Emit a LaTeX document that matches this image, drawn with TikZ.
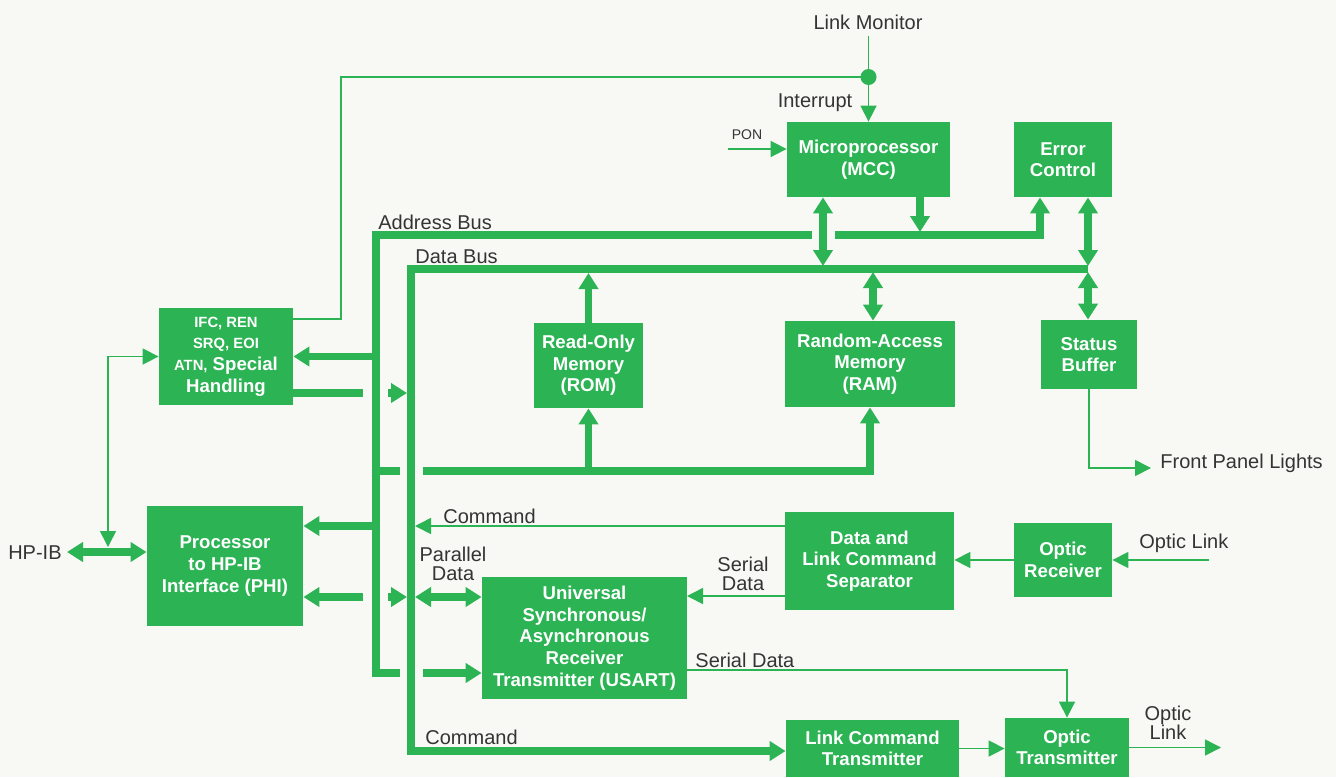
\documentclass[tikz,border=0pt]{standalone}
\usepackage{fontspec}
\setmainfont{Liberation Sans}
\usetikzlibrary{arrows.meta, calc, positioning}
\definecolor{hpGreen}{RGB}{44,179,84}
\definecolor{hpGray}{RGB}{52,52,52}
\definecolor{hpPaper}{RGB}{248,249,245}
\tikzset{
    block/.style={rectangle, fill=hpGreen, text=white, inner sep=0pt, align=center, font=\fontsize{9.3}{10.8}\selectfont\bfseries},
    boxsize/.style 2 args={minimum width=#1*0.5pt, minimum height=#2*0.5pt},
    lbl/.style={text=hpGray, inner sep=0pt, align=center, font=\fontsize{10}{9.6}\selectfont},
    sigLine/.style={draw=hpGreen, line width=0.8pt},
    sigArrow/.style={sigLine, -{Triangle[length=8pt, width=8pt]}},
    sigBoth/.style={sigLine, {Triangle[length=8pt, width=8pt]}-{Triangle[length=8pt, width=8pt]}},
    busLine/.style={draw=hpGreen, line width=3.6pt},
    busArrow/.style={busLine, -{Triangle[length=8pt, width=9.5pt]}},
    busBoth/.style={busLine, {Triangle[length=8pt, width=9.5pt]}-{Triangle[length=8pt, width=9.5pt]}},
}
\newcommand{\smallcaption}[1]{{\fontsize{7.4}{10.8}\selectfont #1}}

\begin{document}
\begin{tikzpicture}[x=0.5pt, y=-0.5pt]
    \fill[hpPaper] (0,0) rectangle (1336,777);
    \useasboundingbox (0,0) rectangle (1336,777);

    % blocks
    \node[block, boxsize={163}{75}] (mcc) at (868.5,159.5) {Microprocessor\\(MCC)};
    \node[block, boxsize={98}{75}] (err) at (1063,159.5) {Error\\Control};
    \node[block, boxsize={109}{85}] (rom) at (588.5,365.5) {Read-Only\\Memory\\(ROM)};
    \node[block, boxsize={170}{86}] (ram) at (870,364) {Random-Access\\Memory\\(RAM)};
    \node[block, boxsize={96}{69}] (stat) at (1089,354.5) {Status\\Buffer};
    \node[block, boxsize={134}{97}] (ifc) at (226,356.5) {\smallcaption{IFC, REN}\\\smallcaption{SRQ, EOI}\\\smallcaption{ATN,} Special\\Handling};
    \node[block, boxsize={156}{120}] (phi) at (225,566) {Processor\\to HP-IB\\Interface (PHI)};
    \node[block, boxsize={205}{122}] (usart) at (584.5,638) {Universal\\Synchronous/\\Asynchronous\\Receiver\\Transmitter (USART)};
    \node[block, boxsize={169}{98}] (sep) at (869.5,561) {Data and\\Link Command\\Separator};
    \node[block, boxsize={98}{74}] (orx) at (1063,560) {Optic\\Receiver};
    \node[block, boxsize={173}{57}] (lct) at (872.5,748.5) {Link Command\\Transmitter};
    \node[block, boxsize={124}{59}] (otx) at (1067,747.5) {Optic\\Transmitter};

    % labels
    \node[lbl] (lmLabel) at (868,22) {Link Monitor};
    \node[lbl] (intLabel) at (815,103) {Interrupt};
    \node[lbl, font=\fontsize{7}{8}\selectfont] (ponLabel) at (747,135) {PON};
    \node[lbl, anchor=west] (abusLabel) at (378,222) {Address Bus};
    \node[lbl, anchor=west] (dbusLabel) at (415,257) {Data Bus};
    \node[lbl, anchor=west] (cmdInLabel) at (443,516) {Command};
    \node[lbl] (parLabel) at (453,564) {Parallel\\Data};
    \node[lbl] (serInLabel) at (743,574) {Serial\\Data};
    \node[lbl, anchor=west] (serOutLabel) at (695,660) {Serial Data};
    \node[lbl, anchor=west] (cmdOutLabel) at (425,737) {Command};
    \node[lbl] (olOutLabel) at (1168,723) {Optic\\Link};
    \node[lbl, anchor=west] (olInLabel) at (1139,543) {Optic Link};
    \node[lbl, anchor=west] (fplLabel) at (1160,463) {Front Panel Lights};
    \node[lbl, anchor=east] (hpibLabel) at (62,553) {HP-IB};

    % bus corners and taps
    \coordinate (aTop) at (376,235);
    \coordinate (aBot) at (376,673);
    \coordinate (aErr) at (1040,235);
    \coordinate (dTop) at (411,269);
    \coordinate (dEnd) at (1088,269);
    \coordinate (dBot) at (411,751);
    \coordinate (aMem) at (423,471);
    \coordinate (aUs) at (423,673);
    \coordinate (aPhi) at (376,526);
    \coordinate (mD) at (823,266);
    \coordinate (mA) at (920,232);
    \coordinate (eD) at (1088,266);
    \coordinate (sD) at (1088,272);
    \coordinate (rD) at (873,272);
    \coordinate (roD) at (588.5,273);
    \coordinate (uD) at (415,597);

    % address bus
    \draw[busLine] (400,673) -- (aBot) -- (aTop) -- (812,235);
    \draw[busArrow] (835,235) -- (aErr) -- (aErr |- err.south);
    \draw[busLine] (aTop |- aMem) -- (400,471);
    \draw[busArrow] (aMem) -| (ram.south);
    \draw[busArrow] (aMem -| rom.south) -- (rom.south);
    \draw[busArrow] (aUs) -- (aUs -| usart.west);
    \draw[busArrow] (aTop |- ifc.east) -- (ifc.east);
    \draw[busArrow] (aPhi) -- (aPhi -| phi.east);

    % data bus
    \draw[busArrow] (dEnd) -- (dTop) -- (dBot) -- (dBot -| lct.west);
    \draw[busBoth] (mD |- mcc.south) -- (mD);
    \draw[busArrow] (mA |- mcc.south) -- (mA);
    \draw[busBoth] (eD |- err.south) -- (eD);
    \draw[busBoth] (sD) -- (sD |- stat.north);
    \draw[busBoth] (rD) -- (rD |- ram.north);
    \draw[busArrow] (rom.north) -- (roD);
    \draw[busBoth] (uD) -- (uD -| usart.west);

    % broken crossings over the address bus
    \coordinate (ifcOut) at (363,393);
    \coordinate (ifcGap) at (388,393);
    \coordinate (ifcTip) at (407,393);
    \draw[busLine] (ifcOut -| ifc.east) -- (ifcOut);
    \draw[busArrow] (ifcGap) -- (ifcTip);
    \coordinate (phiOut) at (363,597);
    \coordinate (phiGap) at (388,597);
    \coordinate (phiTip) at (407,597);
    \draw[busArrow] (phiOut) -- (phiOut -| phi.east);
    \draw[busArrow] (phiGap) -- (phiTip);

    % HP-IB
    \coordinate (hpib) at (67,552);
    \coordinate (hpibTap) at (108,547);
    \draw[busBoth] (hpib) -- (hpib -| phi.west);
    \draw[sigBoth] (hpibTap) |- (ifc.west);

    % link monitor and interrupt
    \coordinate (lmTop) at (868.5,36);
    \coordinate (lmDot) at (868.5,77);
    \coordinate (lmBend) at (341,319);
    \draw[sigArrow] (lmTop) -- (mcc.north);
    \fill[hpGreen] (lmDot) circle[radius=4pt];
    \draw[sigLine] (lmDot) -| (lmBend) -- (lmBend -| ifc.east);
    \coordinate (ponIn) at (728,149);
    \draw[sigArrow] (ponIn) -- (ponIn -| mcc.west);

    % serial side
    \coordinate (cmdIn) at (415,526);
    \coordinate (serIn) at (687,596);
    \coordinate (serOut) at (1067,670);
    \coordinate (olIn) at (1209,560);
    \coordinate (olOut) at (1221,747.5);
    \coordinate (fpl) at (1151,468);
    \draw[sigArrow] (cmdIn -| sep.west) -- (cmdIn);
    \draw[sigArrow] (serIn -| sep.west) -- (serIn);
    \draw[sigArrow] (serOut -| usart.east) -| (otx.north);
    \draw[sigArrow] (olIn) -- (olIn -| orx.east);
    \draw[sigArrow] (orx.west) -- (orx.west -| sep.east);
    \draw[sigArrow] (lct.east) -- (lct.east -| otx.west);
    \draw[sigArrow] (otx.east) -- (olOut);
    \draw[sigArrow] (stat.south) |- (fpl);
\end{tikzpicture}
\end{document}
